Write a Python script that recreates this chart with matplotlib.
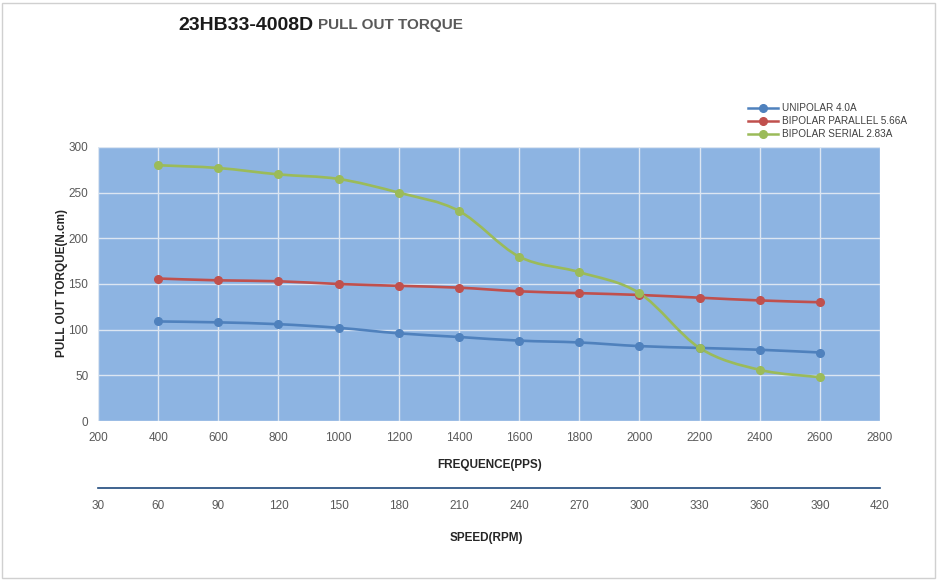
import matplotlib
matplotlib.use("Agg")
import matplotlib.pyplot as plt
import numpy as np
from matplotlib.path import Path
from matplotlib.patches import PathPatch, Rectangle

plt.rcParams['font.family'] = ['Liberation Sans', 'DejaVu Sans']

freq = [400, 600, 800, 1000, 1200, 1400, 1600, 1800, 2000, 2200, 2400, 2600]
unipolar = [109, 108, 106, 102, 96, 92, 88, 86, 82, 80, 78, 75]
bipolar_parallel = [156, 154, 153, 150, 148, 146, 142, 140, 138, 135, 132, 130]
bipolar_serial = [280, 277, 270, 265, 250, 230, 180, 163, 140, 80, 56, 48]
series_names = ['UNIPOLAR 4.0A', 'BIPOLAR PARALLEL 5.66A', 'BIPOLAR SERIAL 2.83A']
colors = ['#4F81BD', '#C0504D', '#9BBB59']
freq_ticks = list(range(200, 3000, 200))
rpm_labels = ['30', '60', '90', '120', '150', '180', '210', '240', '270', '300', '330', '360', '390', '420']

W, H = 938, 581
fig = plt.figure(figsize=(W / 100, H / 100), dpi=100)
fig.patch.set_facecolor('white')
fig.patches.append(Rectangle((2 / W, 3 / H), 933 / W, 575 / H, transform=fig.transFigure,
                             fill=False, edgecolor='#D0D0D0', lw=1))

L, R, T, B = 98, 880, 147, 421
ax = fig.add_axes([L / W, 1 - B / H, (R - L) / W, (B - T) / H])
ax.set_facecolor('#8DB4E2')
ax.set_xlim(200, 2800)
ax.set_ylim(0, 300)
ax.set_xticks(freq_ticks)
ax.set_yticks(range(0, 301, 50))
ax.grid(True, color='#DCE6F2', lw=1)
ax.set_axisbelow(True)
for s in ax.spines.values():
    s.set_visible(False)
ax.tick_params(length=0, labelsize=8.5, colors='#595959', pad=8)
ax.tick_params(axis='y', pad=7)


def smooth_path(x, y):
    x = np.asarray(x, float)
    y = np.asarray(y, float)
    pts = np.column_stack([x, y])
    verts = [pts[0]]
    codes = [Path.MOVETO]
    n = len(pts)
    for i in range(n - 1):
        p0 = pts[i - 1] if i > 0 else pts[i]
        p1 = pts[i]
        p2 = pts[i + 1]
        p3 = pts[i + 2] if i + 2 < n else pts[i + 1]
        c1 = p1 + (p2 - p0) / 6
        c2 = p2 - (p3 - p1) / 6
        verts += [c1, c2, p2]
        codes += [Path.CURVE4] * 3
    return Path(verts, codes)


handles = []
for vals, c, name in zip([unipolar, bipolar_parallel, bipolar_serial], colors, series_names):
    ax.add_patch(PathPatch(smooth_path(freq, vals), fill=False, edgecolor=c, lw=1.9, zorder=3))
    ax.plot(freq, vals, color=c, marker='o', ms=5.5, linestyle='none', zorder=4)
    handles.append(ax.plot([], [], color=c, lw=1.8, marker='o', ms=5.5, label=name)[0])

leg = fig.legend(handles=handles, loc='upper left', bbox_to_anchor=(744 / W, 1 - 99 / H),
                 frameon=False, fontsize=7.2, handlelength=3.0, handletextpad=0.4,
                 labelspacing=0.3, borderaxespad=0)
for t in leg.get_texts():
    t.set_color('#404040')

fig.text(62 / W, 1 - 283 / H, 'PULL OUT TORQUE(N.cm)', fontsize=8.5, fontweight='bold',
         color='#262626', rotation=90, ha='center', va='center')
fig.text(490 / W, 1 - 465 / H, 'FREQUENCE(PPS)', fontsize=8.5, fontweight='bold',
         color='#262626', ha='center', va='center')
fig.text(486 / W, 1 - 538 / H, 'SPEED(RPM)', fontsize=8.5, fontweight='bold',
         color='#262626', ha='center', va='center')

# Speed axis
ax2 = fig.add_axes([L / W, 1 - 489 / H, (R - L) / W, 0.001])
ax2.set_xlim(200, 2800)
ax2.set_xticks(freq_ticks)
ax2.set_xticklabels(rpm_labels)
ax2.set_yticks([])
ax2.patch.set_visible(False)
for k in ['left', 'right', 'bottom']:
    ax2.spines[k].set_visible(False)
ax2.spines['top'].set_color('#1F497D')
ax2.spines['top'].set_linewidth(1.2)
ax2.tick_params(length=0, labelsize=8.5, colors='#595959', pad=8)

fig.text(178 / W, 1 - 25 / H, '23HB33-4008D', fontsize=14, fontweight='bold', color='#1A1A1A', va='center')
fig.text(318 / W, 1 - 25 / H, 'PULL OUT TORQUE', fontsize=11, fontweight='bold', color='#595959', va='center')

fig.savefig('out.png', dpi=100, facecolor='white')
